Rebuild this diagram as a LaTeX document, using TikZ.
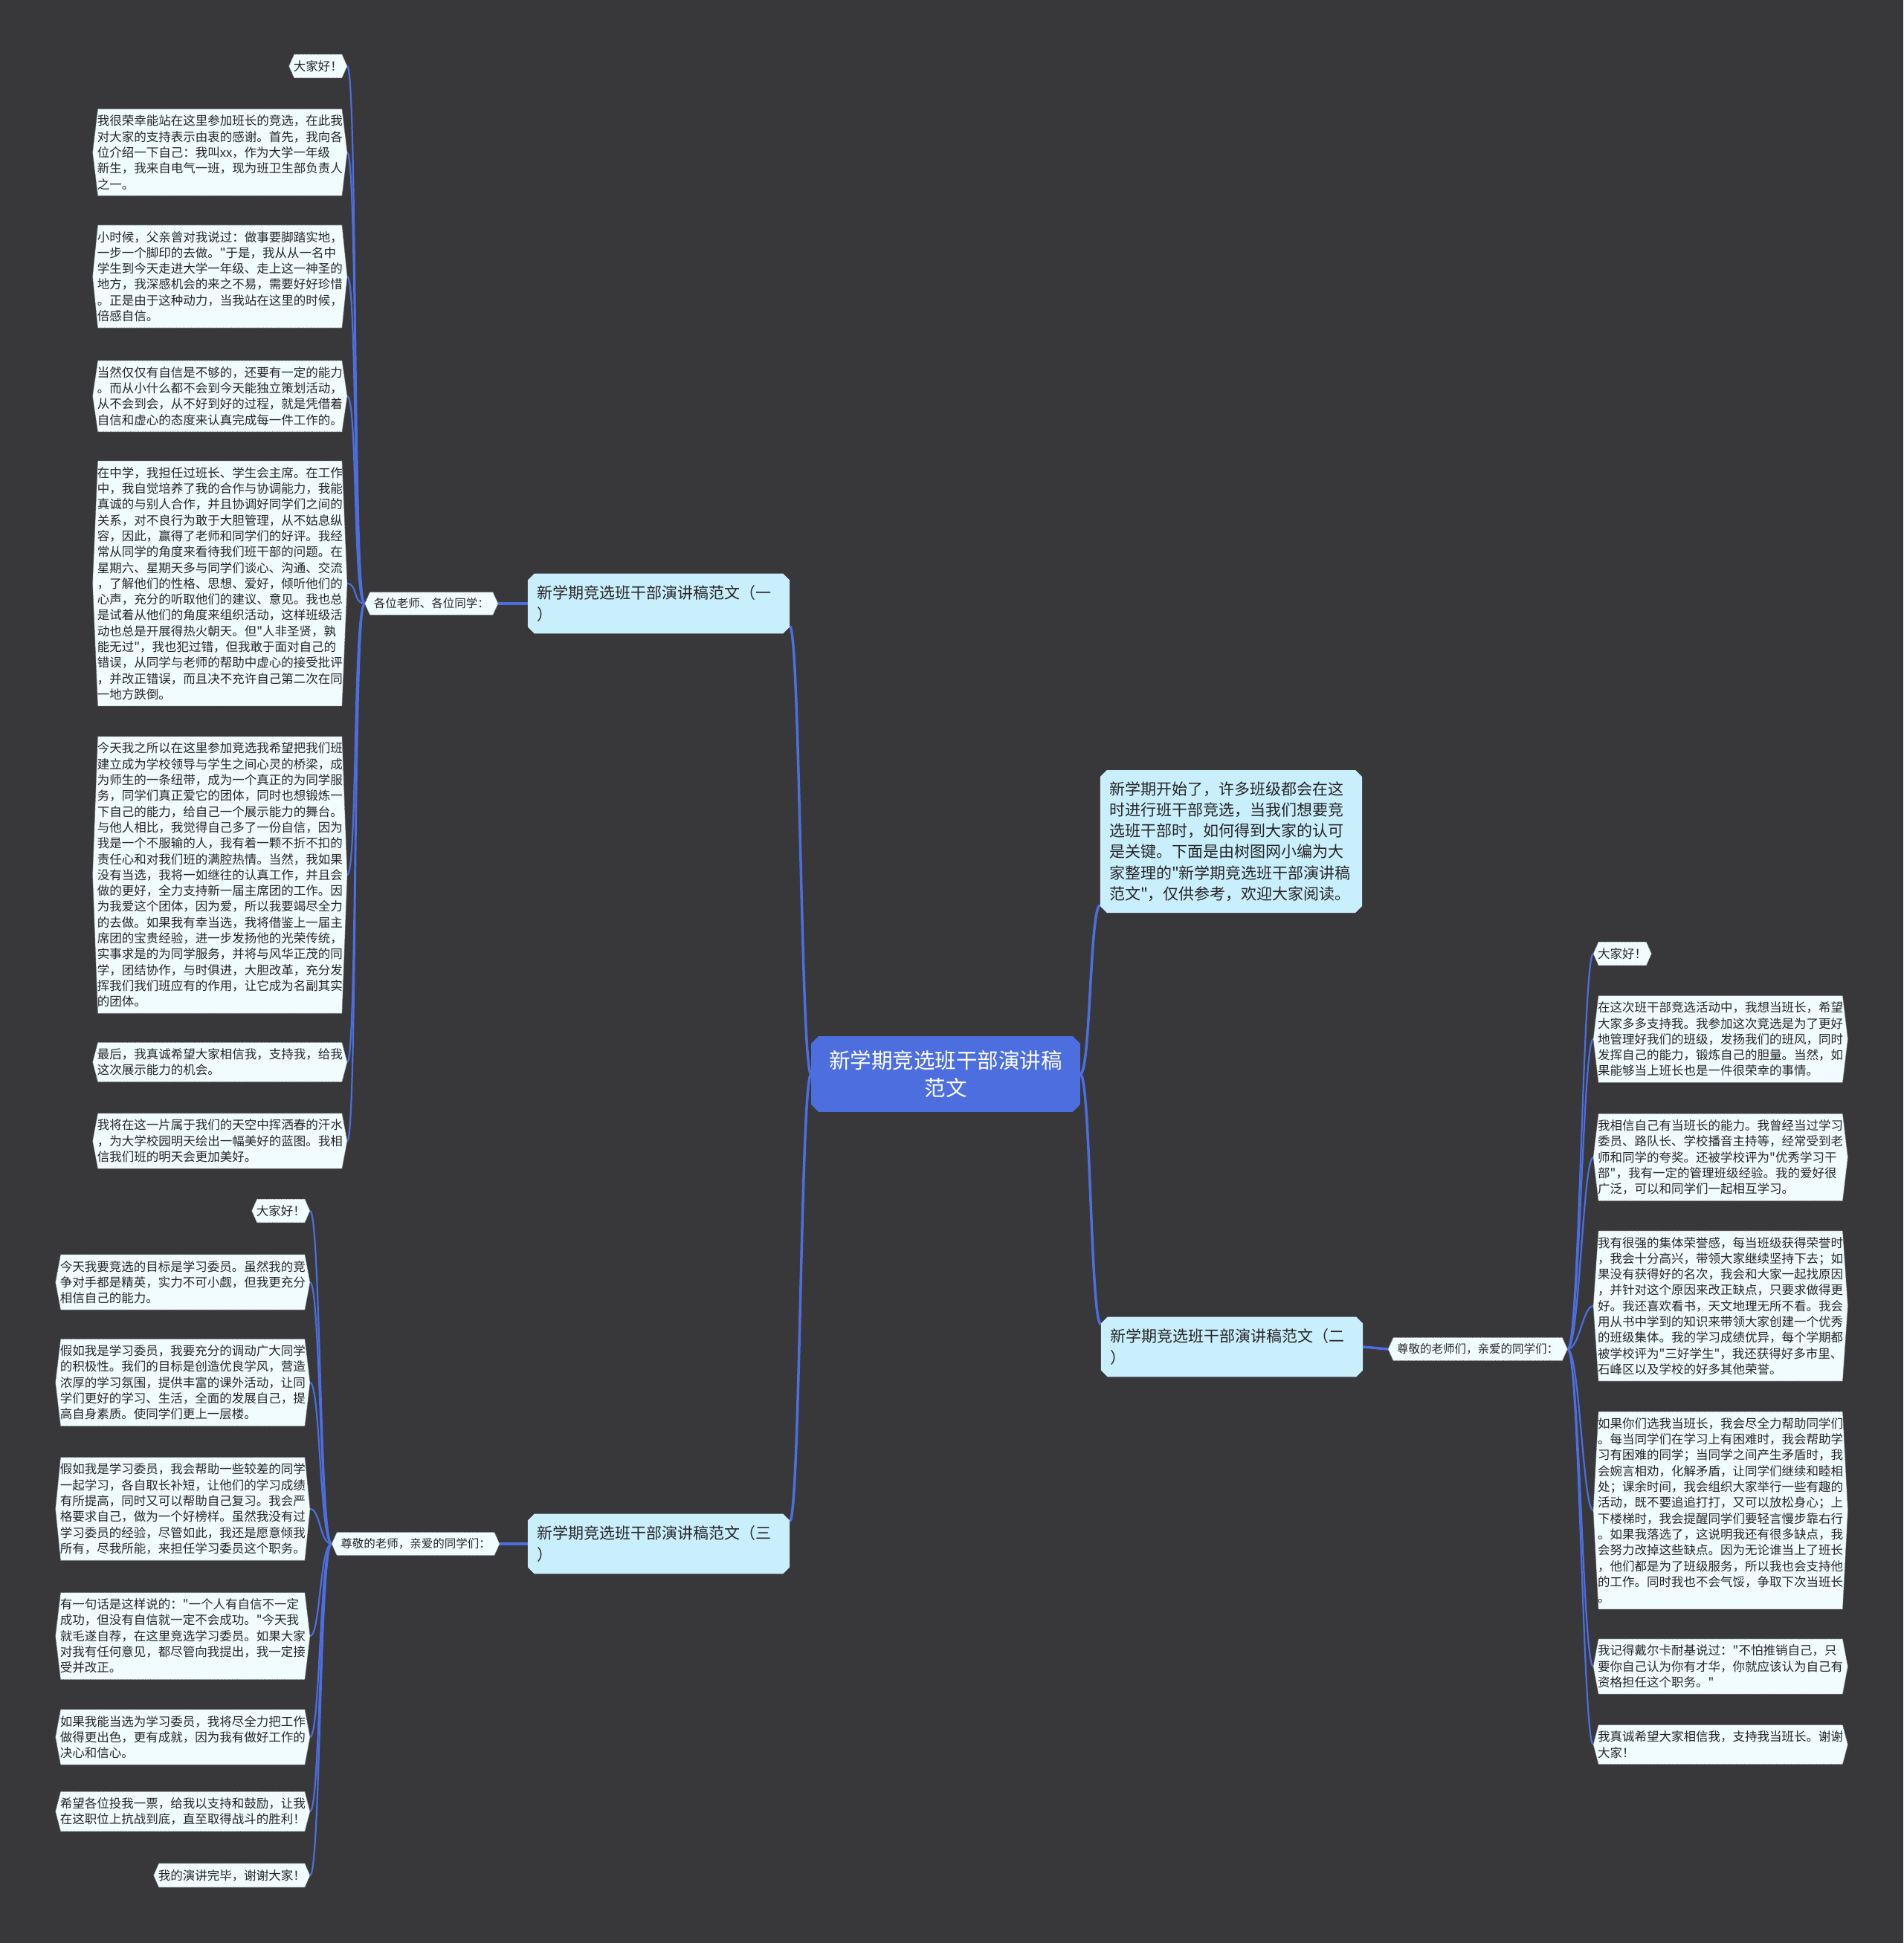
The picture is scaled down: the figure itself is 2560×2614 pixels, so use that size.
\documentclass[tikz,border=0pt]{standalone}
\usepackage{fontspec}
\setmainfont{Noto Sans CJK SC}[Ligatures=TeXOff]
\usetikzlibrary{backgrounds}
\definecolor{pagebg}{RGB}{56,55,58}
\definecolor{hubblue}{RGB}{76,110,222}
\definecolor{topicfill}{RGB}{201,238,252}
\definecolor{leaffill}{RGB}{241,252,255}
\definecolor{inktext}{RGB}{38,38,38}
\definecolor{wire}{RGB}{76,110,222}
% hexagon outline behind a leaf node
\newcommand{\leafhex}[1]{\filldraw[leafline] ([xshift=7pt]#1.north west) -- ([xshift=-7pt]#1.north east) -- (#1.east) -- ([xshift=-7pt]#1.south east) -- ([xshift=7pt]#1.south west) -- (#1.west) -- cycle;}
% box with cut corners behind a topic node
\newcommand{\chamferfill}[3]{\fill[#2] ([xshift=#3]#1.north west) -- ([xshift=-#3]#1.north east) -- ([yshift=-#3]#1.north east) -- ([yshift=#3]#1.south east) -- ([xshift=-#3]#1.south east) -- ([xshift=#3]#1.south west) -- ([yshift=#3]#1.south west) -- ([yshift=-#3]#1.north west) -- cycle;}

\begin{document}
\begin{tikzpicture}[x=1pt, y=-1pt,
    leaf/.style={inner xsep=6pt, inner ysep=8pt, text=inktext, align=left,
                 font=\fontsize{16.5}{21.3}\selectfont},
    leafwide/.style={leaf, text width=330pt},
    tag/.style={leaf, inner xsep=12pt, font=\fontsize{15.5}{20}\selectfont},
    topic/.style={inner xsep=12pt, inner ysep=16pt, text=inktext, align=left,
                  text width=328pt, font=\fontsize{21}{28.3}\selectfont},
    hub/.style={inner xsep=24pt, inner ysep=19pt, text=white, align=center,
                minimum width=361pt, font=\fontsize{28.5}{37}\selectfont},
    leafline/.style={fill=leaffill, draw=black!55, densely dotted, line width=0.8pt},
    trunk/.style={wire, line width=3.5pt},
    twig/.style={wire, line width=2.2pt}
]
\useasboundingbox (0,0) rectangle (2560,2614);

\node[hub] (hub) at (1272,1445) {新学期竞选班干部演讲稿\\范文};

\node[topic, inner ysep=15pt] (intro) at (1656,1132) {新学期开始了，许多班级都会在这\\时进行班干部竞选，当我们想要竞\\选班干部时，如何得到大家的认可\\是关键。下面是由树图网小编为大\\家整理的"新学期竞选班干部演讲稿\\范文"，仅供参考，欢迎大家阅读。};

\node[topic] (b1) at (886,812) {新学期竞选班干部演讲稿范文（一\\）};
\node[topic] (b2) at (1657,1812) {新学期竞选班干部演讲稿范文（二\\）};
\node[topic] (b3) at (886,2077) {新学期竞选班干部演讲稿范文（三\\）};

\node[tag, anchor=east] (s1) at (670,812) {各位老师、各位同学：};
\node[tag, anchor=west] (s2) at (1867,1815) {尊敬的老师们，亲爱的同学们：};
\node[tag, anchor=east] (s3) at (672,2077) {尊敬的老师，亲爱的同学们：};

% speech one
\node[leaf, anchor=east] (l1) at (467,89) {大家好！};
\node[leafwide, anchor=east] (l2) at (467,205) {我很荣幸能站在这里参加班长的竞选，在此我\\对大家的支持表示由衷的感谢。首先，我向各\\位介绍一下自己：我叫xx，作为大学一年级\\新生，我来自电气一班，现为班卫生部负责人\\之一。};
\node[leafwide, anchor=east] (l3) at (467,372) {小时候，父亲曾对我说过：做事要脚踏实地，\\一步一个脚印的去做。"于是，我从从一名中\\学生到今天走进大学一年级、走上这一神圣的\\地方，我深感机会的来之不易，需要好好珍惜\\。正是由于这种动力，当我站在这里的时候，\\倍感自信。};
\node[leafwide, anchor=east] (l4) at (467,533) {当然仅仅有自信是不够的，还要有一定的能力\\。而从小什么都不会到今天能独立策划活动，\\从不会到会，从不好到好的过程，就是凭借着\\自信和虚心的态度来认真完成每一件工作的。};
\node[leafwide, anchor=east] (l5) at (467,785) {在中学，我担任过班长、学生会主席。在工作\\中，我自觉培养了我的合作与协调能力，我能\\真诚的与别人合作，并且协调好同学们之间的\\关系，对不良行为敢于大胆管理，从不姑息纵\\容，因此，赢得了老师和同学们的好评。我经\\常从同学的角度来看待我们班干部的问题。在\\星期六、星期天多与同学们谈心、沟通、交流\\，了解他们的性格、思想、爱好，倾听他们的\\心声，充分的听取他们的建议、意见。我也总\\是试着从他们的角度来组织活动，这样班级活\\动也总是开展得热火朝天。但"人非圣贤，孰\\能无过"，我也犯过错，但我敢于面对自己的\\错误，从同学与老师的帮助中虚心的接受批评\\，并改正错误，而且决不充许自己第二次在同\\一地方跌倒。};
\node[leafwide, anchor=east] (l6) at (467,1177) {今天我之所以在这里参加竞选我希望把我们班\\建立成为学校领导与学生之间心灵的桥梁，成\\为师生的一条纽带，成为一个真正的为同学服\\务，同学们真正爱它的团体，同时也想锻炼一\\下自己的能力，给自己一个展示能力的舞台。\\与他人相比，我觉得自己多了一份自信，因为\\我是一个不服输的人，我有着一颗不折不扣的\\责任心和对我们班的满腔热情。当然，我如果\\没有当选，我将一如继往的认真工作，并且会\\做的更好，全力支持新一届主席团的工作。因\\为我爱这个团体，因为爱，所以我要竭尽全力\\的去做。如果我有幸当选，我将借鉴上一届主\\席团的宝贵经验，进一步发扬他的光荣传统，\\实事求是的为同学服务，并将与风华正茂的同\\学，团结协作，与时俱进，大胆改革，充分发\\挥我们我们班应有的作用，让它成为名副其实\\的团体。};
\node[leafwide, anchor=east] (l7) at (467,1429) {最后，我真诚希望大家相信我，支持我，给我\\这次展示能力的机会。};
\node[leafwide, anchor=east] (l8) at (467,1535) {我将在这一片属于我们的天空中挥洒春的汗水\\，为大学校园明天绘出一幅美好的蓝图。我相\\信我们班的明天会更加美好。};

% speech two
\node[leaf, anchor=west] (r1) at (2143,1283) {大家好！};
\node[leafwide, anchor=west] (r2) at (2143,1398) {在这次班干部竞选活动中，我想当班长，希望\\大家多多支持我。我参加这次竞选是为了更好\\地管理好我们的班级，发扬我们的班风，同时\\发挥自己的能力，锻炼自己的胆量。当然，如\\果能够当上班长也是一件很荣幸的事情。};
\node[leafwide, anchor=west] (r3) at (2143,1557) {我相信自己有当班长的能力。我曾经当过学习\\委员、路队长、学校播音主持等，经常受到老\\师和同学的夸奖。还被学校评为"优秀学习干\\部"，我有一定的管理班级经验。我的爱好很\\广泛，可以和同学们一起相互学习。};
\node[leafwide, anchor=west] (r4) at (2143,1757) {我有很强的集体荣誉感，每当班级获得荣誉时\\，我会十分高兴，带领大家继续坚持下去；如\\果没有获得好的名次，我会和大家一起找原因\\，并针对这个原因来改正缺点，只要求做得更\\好。我还喜欢看书，天文地理无所不看。我会\\用从书中学到的知识来带领大家创建一个优秀\\的班级集体。我的学习成绩优异，每个学期都\\被学校评为"三好学生"，我还获得好多市里、\\石峰区以及学校的好多其他荣誉。};
\node[leafwide, anchor=west] (r5) at (2143,2032) {如果你们选我当班长，我会尽全力帮助同学们\\。每当同学们在学习上有困难时，我会帮助学\\习有困难的同学；当同学之间产生矛盾时，我\\会婉言相劝，化解矛盾，让同学们继续和睦相\\处；课余时间，我会组织大家举行一些有趣的\\活动，既不要追追打打，又可以放松身心；上\\下楼梯时，我会提醒同学们要轻言慢步靠右行\\。如果我落选了，这说明我还有很多缺点，我\\会努力改掉这些缺点。因为无论谁当上了班长\\，他们都是为了班级服务，所以我也会支持他\\的工作。同时我也不会气馁，争取下次当班长\\。};
\node[leafwide, anchor=west] (r6) at (2143,2242) {我记得戴尔卡耐基说过："不怕推销自己，只\\要你自己认为你有才华，你就应该认为自己有\\资格担任这个职务。"};
\node[leafwide, anchor=west] (r7) at (2143,2347) {我真诚希望大家相信我，支持我当班长。谢谢\\大家！};

% speech three
\node[leaf, anchor=east] (m1) at (417,1629) {大家好！};
\node[leafwide, anchor=east] (m2) at (417,1725) {今天我要竞选的目标是学习委员。虽然我的竞\\争对手都是精英，实力不可小觑，但我更充分\\相信自己的能力。};
\node[leafwide, anchor=east] (m3) at (417,1860) {假如我是学习委员，我要充分的调动广大同学\\的积极性。我们的目标是创造优良学风，营造\\浓厚的学习氛围，提供丰富的课外活动，让同\\学们更好的学习、生活，全面的发展自己，提\\高自身素质。使同学们更上一层楼。};
\node[leafwide, anchor=east] (m4) at (417,2030) {假如我是学习委员，我会帮助一些较差的同学\\一起学习，各自取长补短，让他们的学习成绩\\有所提高，同时又可以帮助自己复习。我会严\\格要求自己，做为一个好榜样。虽然我没有过\\学习委员的经验，尽管如此，我还是愿意倾我\\所有，尽我所能，来担任学习委员这个职务。};
\node[leafwide, anchor=east] (m5) at (417,2201) {有一句话是这样说的："一个人有自信不一定\\成功，但没有自信就一定不会成功。"今天我\\就毛遂自荐，在这里竞选学习委员。如果大家\\对我有任何意见，都尽管向我提出，我一定接\\受并改正。};
\node[leafwide, anchor=east] (m6) at (417,2337) {如果我能当选为学习委员，我将尽全力把工作\\做得更出色，更有成就，因为我有做好工作的\\决心和信心。};
\node[leafwide, anchor=east] (m7) at (417,2437) {希望各位投我一票，给我以支持和鼓励，让我\\在这职位上抗战到底，直至取得战斗的胜利！};
\node[leaf, anchor=east] (m8) at (417,2523) {我的演讲完毕，谢谢大家！};

\begin{scope}[on background layer]
\fill[pagebg] (0,0) rectangle (2560,2614);
% hub to topics
\draw[trunk] (hub.west) .. controls +(-14,0) and +(14,0) .. ([yshift=10pt]b1.south east);
\draw[trunk] (hub.west) .. controls +(-14,0) and +(14,0) .. ([yshift=-10pt]b3.north east);
\draw[trunk] (hub.east) .. controls +(14,0) and +(-14,0) .. ([yshift=10pt]intro.south west);
\draw[trunk] (hub.east) .. controls +(14,0) and +(-14,0) .. ([yshift=-10pt]b2.north west);
\draw[trunk] (b1.west) -- (s1.east);
\draw[trunk] (b2.east) -- (s2.west);
\draw[trunk] (b3.west) -- (s3.east);
% tags to leaves
\foreach \i in {1,...,8}
  {\draw[twig] (s1.west) .. controls +(-16,0) and +(14,0) .. (l\i.east);}
\foreach \i in {1,...,7}
  {\draw[twig] (s2.east) .. controls +(16,0) and +(-14,0) .. (r\i.west);}
\foreach \i in {1,...,8}
  {\draw[twig] (s3.west) .. controls +(-16,0) and +(14,0) .. (m\i.east);}
% node outlines
\foreach \n in {l1,l2,l3,l4,l5,l6,l7,l8,r1,r2,r3,r4,r5,r6,r7,m1,m2,m3,m4,m5,m6,m7,m8,s1,s2,s3}
  {\leafhex{\n}}
\chamferfill{hub}{hubblue}{10pt}
\foreach \n in {intro,b1,b2,b3}
  {\chamferfill{\n}{topicfill}{9pt}}
\end{scope}
\end{tikzpicture}
\end{document}
